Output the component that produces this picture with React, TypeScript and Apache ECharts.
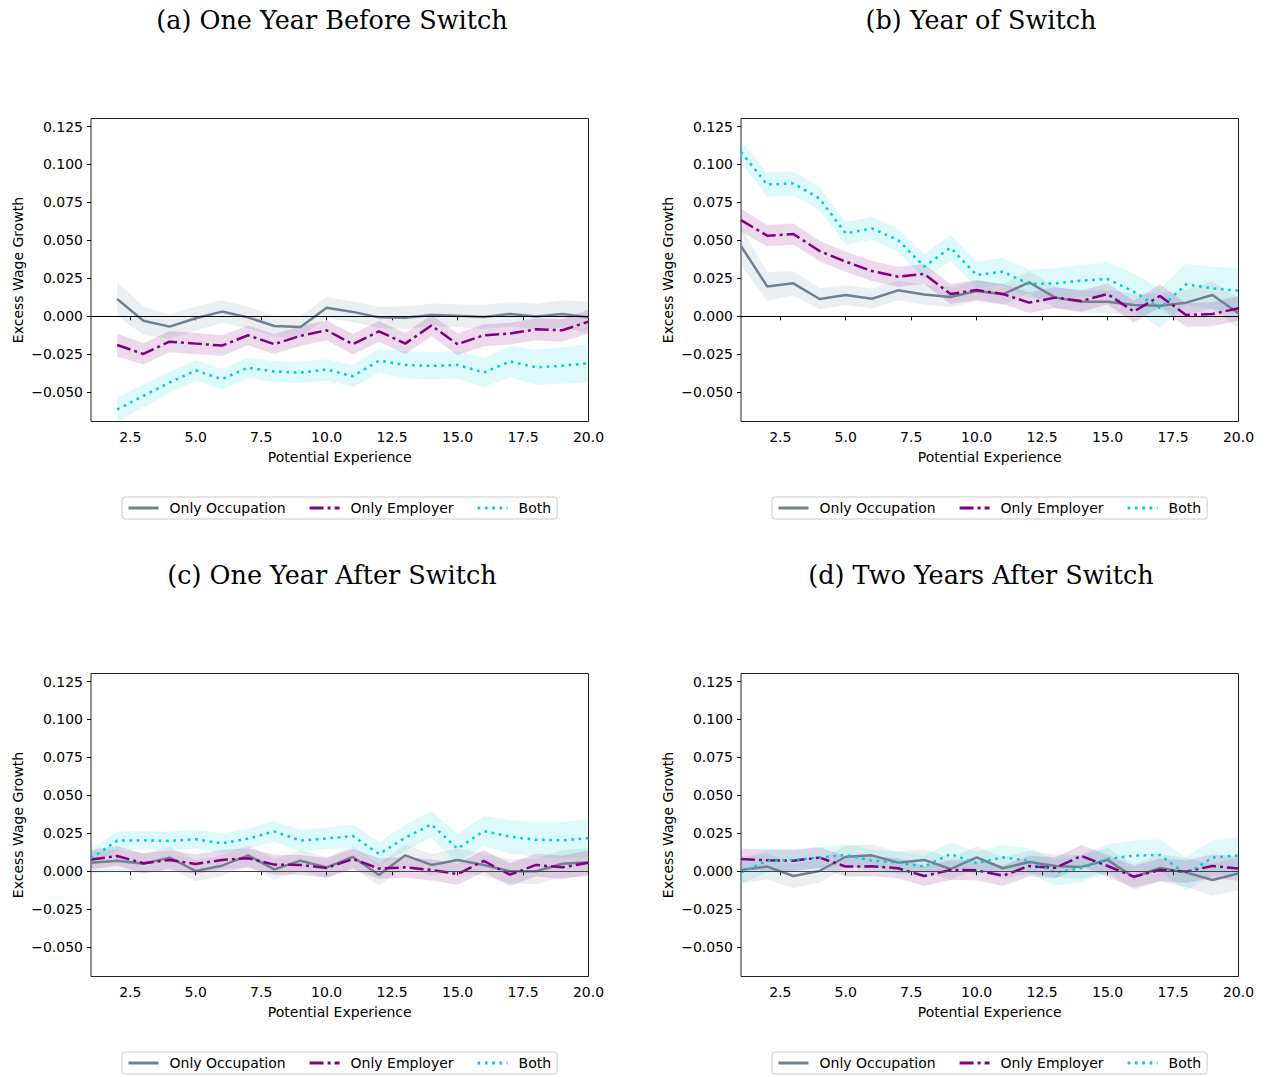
import React, { useEffect, useRef } from "react";
import * as echarts from "echarts";

// Potential experience values
const expA = [2, 3, 4, 5, 6, 7, 8, 9, 10, 11, 12, 13, 14, 15, 16, 17, 18, 19, 20];
const expB = [1, 2, 3, 4, 5, 6, 7, 8, 9, 10, 11, 12, 13, 14, 15, 16, 17, 18, 19, 20];

const xTicks = [2.5, 5, 7.5, 10, 12.5, 15, 17.5, 20];
const yTicks = [-0.05, -0.025, 0, 0.025, 0.05, 0.075, 0.1, 0.125];

const seriesNames = ["Only Occupation", "Only Employer", "Both"];
const titles = [
  "(a) One Year Before Switch",
  "(b) Year of Switch",
  "(c) One Year After Switch",
  "(d) Two Years After Switch",
];

// (a) One year before switch
const occA = [0.0114, -0.0029, -0.0068, -0.0013, 0.0031, -0.0007, -0.0064, -0.007, 0.0057, 0.0029, -0.0007, -0.0009, 0.0009, 0.0004, -0.0004, 0.0015, -0.0002, 0.0015, -0.0007];
const occAHw = [0.011, 0.0095, 0.008, 0.008, 0.0075, 0.007, 0.007, 0.007, 0.0068, 0.0068, 0.007, 0.0075, 0.0075, 0.0075, 0.008, 0.008, 0.0085, 0.009, 0.0105];
const empA = [-0.0189, -0.0248, -0.0167, -0.018, -0.0193, -0.0125, -0.0184, -0.0129, -0.0092, -0.0184, -0.0099, -0.018, -0.0061, -0.0184, -0.0125, -0.0114, -0.0086, -0.0092, -0.0035];
const empAHw = [0.0075, 0.007, 0.007, 0.007, 0.0068, 0.0065, 0.0065, 0.0065, 0.0065, 0.0068, 0.0068, 0.007, 0.007, 0.0072, 0.0072, 0.0072, 0.0072, 0.0075, 0.0078];
const bothA = [-0.0614, -0.0524, -0.0436, -0.0357, -0.0414, -0.0338, -0.0364, -0.0371, -0.0351, -0.0395, -0.0292, -0.032, -0.0327, -0.032, -0.0371, -0.0298, -0.0336, -0.0325, -0.0309];
const bothAHw = [0.008, 0.0075, 0.007, 0.0068, 0.0068, 0.0068, 0.0068, 0.007, 0.007, 0.0072, 0.008, 0.009, 0.009, 0.009, 0.0095, 0.0105, 0.0115, 0.012, 0.0125];

// (b) Year of switch
const occB = [0.0463, 0.0197, 0.0217, 0.0114, 0.014, 0.0116, 0.0171, 0.0143, 0.0127, 0.0167, 0.0145, 0.0224, 0.0123, 0.0096, 0.0096, 0.0075, 0.007, 0.009, 0.014, 0.002];
const occBHw = [0.0125, 0.0095, 0.008, 0.007, 0.0065, 0.0065, 0.0065, 0.0065, 0.0068, 0.0068, 0.007, 0.0072, 0.0072, 0.0072, 0.0075, 0.0075, 0.008, 0.0085, 0.009, 0.01];
const empB = [0.0634, 0.0531, 0.0542, 0.043, 0.036, 0.0298, 0.0261, 0.0279, 0.0147, 0.0173, 0.0147, 0.009, 0.0123, 0.0101, 0.0147, 0.0031, 0.0134, 0.0009, 0.0015, 0.0053];
const empBHw = [0.0075, 0.007, 0.007, 0.0068, 0.0066, 0.0066, 0.0066, 0.0066, 0.0066, 0.0066, 0.0066, 0.0068, 0.0068, 0.007, 0.007, 0.0072, 0.0075, 0.0078, 0.008, 0.008];
const bothB = [0.1083, 0.0868, 0.0875, 0.0776, 0.0546, 0.0579, 0.0502, 0.0327, 0.0452, 0.0272, 0.0294, 0.0213, 0.0217, 0.0235, 0.0246, 0.0162, 0.0053, 0.0211, 0.0184, 0.0169];
const bothBHw = [0.0075, 0.008, 0.008, 0.0078, 0.0075, 0.0075, 0.0078, 0.008, 0.0085, 0.0085, 0.009, 0.0095, 0.01, 0.0105, 0.011, 0.012, 0.013, 0.0135, 0.014, 0.015];

// (c) One year after switch
const occC = [0.0057, 0.007, 0.005, 0.009, 0.0002, 0.0037, 0.0105, 0.0013, 0.007, 0.0026, 0.0094, -0.0024, 0.0105, 0.0042, 0.0075, 0.0042, 0.0, 0.0, 0.005, 0.0059];
const occCHw = [0.007, 0.0075, 0.007, 0.007, 0.007, 0.0068, 0.0068, 0.0068, 0.0068, 0.0068, 0.007, 0.0072, 0.0072, 0.0072, 0.0075, 0.0075, 0.008, 0.0085, 0.009, 0.0095];
const empC = [0.0077, 0.0101, 0.0053, 0.0075, 0.0048, 0.0075, 0.0086, 0.0044, 0.0042, 0.0022, 0.0081, 0.0018, 0.0026, 0.0009, -0.0018, 0.0068, -0.0022, 0.0042, 0.0026, 0.0057];
const empCHw = [0.0065, 0.0065, 0.0065, 0.0065, 0.0065, 0.0065, 0.0065, 0.0065, 0.0065, 0.0065, 0.0068, 0.0068, 0.0068, 0.007, 0.007, 0.0072, 0.0075, 0.0075, 0.0078, 0.008];
const bothC = [0.0086, 0.0202, 0.0204, 0.02, 0.0211, 0.0184, 0.0215, 0.0263, 0.0202, 0.0217, 0.0232, 0.0114, 0.0221, 0.0309, 0.0149, 0.0265, 0.0228, 0.0208, 0.0204, 0.0219];
const bothCHw = [0.006, 0.006, 0.006, 0.006, 0.0062, 0.0065, 0.0068, 0.0068, 0.007, 0.0072, 0.0075, 0.008, 0.0085, 0.0088, 0.0095, 0.01, 0.011, 0.0115, 0.012, 0.0125];

// (d) Two years after switch
const occD = [0.0009, 0.0031, -0.0031, 0.0002, 0.0096, 0.0105, 0.0057, 0.0075, 0.0015, 0.0092, 0.002, 0.0061, 0.0035, 0.0029, 0.0075, -0.0039, 0.0022, -0.0007, -0.0057, -0.0015];
const occDHw = [0.009, 0.0085, 0.008, 0.0075, 0.0072, 0.0072, 0.0072, 0.0072, 0.0072, 0.0072, 0.0072, 0.0075, 0.0075, 0.0078, 0.008, 0.0085, 0.009, 0.0095, 0.0105, 0.011];
const empD = [0.0081, 0.0072, 0.007, 0.009, 0.0031, 0.0033, 0.002, -0.0031, 0.0009, 0.0007, -0.0029, 0.0035, 0.0022, 0.0101, 0.0035, -0.0035, 0.0009, -0.0002, 0.0035, 0.0018];
const empDHw = [0.007, 0.007, 0.0068, 0.0068, 0.0066, 0.0066, 0.0066, 0.0066, 0.0066, 0.0066, 0.0068, 0.0068, 0.007, 0.007, 0.0072, 0.0072, 0.0075, 0.0075, 0.0078, 0.008];
const bothD = [-0.0007, 0.0068, 0.0075, 0.009, 0.0107, 0.007, 0.0057, 0.0031, 0.0114, 0.0053, 0.0092, 0.007, -0.0007, 0.002, 0.0081, 0.0103, 0.0107, -0.0018, 0.009, 0.0105];
const bothDHw = [0.0075, 0.0075, 0.0072, 0.0072, 0.0072, 0.0072, 0.0072, 0.0075, 0.0075, 0.0078, 0.008, 0.0082, 0.0085, 0.009, 0.0095, 0.01, 0.0105, 0.011, 0.0115, 0.012];

const panelData = [
  { xs: expA, occ: occA, occHw: occAHw, emp: empA, empHw: empAHw, both: bothA, bothHw: bothAHw },
  { xs: expB, occ: occB, occHw: occBHw, emp: empB, empHw: empBHw, both: bothB, bothHw: bothBHw },
  { xs: expB, occ: occC, occHw: occCHw, emp: empC, empHw: empCHw, both: bothC, bothHw: bothCHw },
  { xs: expB, occ: occD, occHw: occDHw, emp: empD, empHw: empDHw, both: bothD, bothHw: bothDHw },
];

// layout
const gridPos = [
  { left: 91, top: 118.5 },
  { left: 741, top: 118.5 },
  { left: 91, top: 673.5 },
  { left: 741, top: 673.5 },
];
const GRID_W = 497.5;
const GRID_H = 303;
const titlePos = [
  { x: 332, y: 20 },
  { x: 981, y: 20 },
  { x: 332, y: 575 },
  { x: 981, y: 575 },
];
const legendPos = [
  { left: 122, top: 497 },
  { left: 772, top: 497 },
  { left: 122, top: 1052 },
  { left: 772, top: 1052 },
];

const COLORS = ["#708090", "#800080", "#00CED1"];
const BAND_COLORS = ["rgba(112,128,144,0.13)", "rgba(128,0,128,0.15)", "rgba(0,206,209,0.13)"];
const LINE_TYPES: any[] = ["solid", [14, 4, 3, 4], [2.7, 4.6]];
const SANS = "DejaVu Sans";

function fmtY(v: number) {
  const s = Math.abs(v).toFixed(3);
  return v < -1e-9 ? "\u2212" + s : s;
}

function bandSeries(k: number, xs: number[], ys: number[], hw: number[], color: string) {
  return {
    type: "custom",
    name: "band",
    xAxisIndex: k,
    yAxisIndex: k,
    silent: true,
    data: xs.map((x, i) => [x, ys[i] - hw[i], ys[i] + hw[i]]),
    encode: { x: 0, y: [1, 2] },
    renderItem: (params: any, api: any) => {
      if (params.dataIndex !== 0) return null;
      const pts: number[][] = [];
      for (let i = 0; i < xs.length; i++) pts.push(api.coord([xs[i], ys[i] + hw[i]]));
      for (let i = xs.length - 1; i >= 0; i--) pts.push(api.coord([xs[i], ys[i] - hw[i]]));
      return { type: "polygon", shape: { points: pts }, style: { fill: color } };
    },
  };
}

function zeroSeries(k: number, color: string) {
  return {
    type: "line",
    name: "zero",
    xAxisIndex: k,
    yAxisIndex: k,
    data: [],
    silent: true,
    markLine: {
      silent: true,
      symbol: ["none", "none"],
      label: { show: false },
      lineStyle: { color, width: 1, type: "solid" },
      data: [{ yAxis: 0 }],
    },
  };
}

function buildOption() {
  const grid: any[] = [];
  const xAxis: any[] = [];
  const yAxis: any[] = [];
  const series: any[] = [];
  const legend: any[] = [];
  const graphic: any[] = [];

  panelData.forEach((p, k) => {
    grid.push({
      left: gridPos[k].left,
      top: gridPos[k].top,
      width: GRID_W,
      height: GRID_H,
      show: true,
      borderColor: "#222",
      borderWidth: 1,
      backgroundColor: "transparent",
    });
    xAxis.push({
      type: "value",
      gridIndex: k,
      min: 1,
      max: 20,
      name: "Potential Experience",
      nameLocation: "middle",
      nameGap: 28,
      nameTextStyle: { fontSize: 14, color: "#000", fontFamily: SANS },
      axisLine: { show: false },
      axisTick: { show: true, length: 4, lineStyle: { color: "#000", width: 1 }, customValues: xTicks },
      axisLabel: {
        color: "#000",
        fontSize: 14,
        fontFamily: SANS,
        margin: 8,
        customValues: xTicks,
        formatter: (v: number) => v.toFixed(1),
      },
      splitLine: { show: false },
    });
    yAxis.push({
      type: "value",
      gridIndex: k,
      min: -0.0693,
      max: 0.1303,
      name: "Excess Wage Growth",
      nameLocation: "middle",
      nameGap: 66,
      nameTextStyle: { fontSize: 14, color: "#000", fontFamily: SANS },
      axisLine: { show: false },
      axisTick: { show: true, length: 4, lineStyle: { color: "#000", width: 1 }, customValues: yTicks },
      axisLabel: {
        color: "#000",
        fontSize: 14,
        fontFamily: SANS,
        margin: 8,
        customValues: yTicks,
        formatter: (v: number) => fmtY(v),
      },
      splitLine: { show: false },
    });

    const ys = [p.occ, p.emp, p.both];
    const hws = [p.occHw, p.empHw, p.bothHw];
    if (k >= 2) series.push(zeroSeries(k, "#444"));
    for (let s = 0; s < 3; s++) series.push(bandSeries(k, p.xs, ys[s], hws[s], BAND_COLORS[s]));
    for (let s = 0; s < 3; s++) {
      series.push({
        type: "line",
        name: seriesNames[s],
        xAxisIndex: k,
        yAxisIndex: k,
        data: p.xs.map((x, i) => [x, ys[s][i]]),
        symbol: "none",
        showSymbol: false,
        color: COLORS[s],
        lineStyle: { color: COLORS[s], width: 2.5, type: LINE_TYPES[s], cap: "butt" },
      });
    }
    if (k < 2) series.push(zeroSeries(k, "#000"));

    legend.push({
      left: legendPos[k].left,
      top: legendPos[k].top,
      data: seriesNames,
      orient: "horizontal",
      itemWidth: 30,
      itemHeight: 14,
      itemGap: 22.5,
      padding: [4, 6, 4, 5],
      borderColor: "#ccc",
      borderWidth: 1,
      borderRadius: 3,
      selectedMode: false,
      itemStyle: { opacity: 0 },
      lineStyle: { width: 3 },
      textStyle: { fontSize: 14, color: "#000", fontFamily: SANS, padding: [0, 0, 0, 6] },
    });

    graphic.push({
      type: "text",
      x: titlePos[k].x,
      y: titlePos[k].y,
      style: {
        text: titles[k],
        fontSize: 25.5,
        fontFamily: "DejaVu Serif",
        fill: "#000",
        align: "center",
        verticalAlign: "middle",
      },
    });
  });

  return {
    animation: false,
    backgroundColor: "#fff",
    grid,
    xAxis,
    yAxis,
    series,
    legend,
    graphic,
  };
}

export default function App() {
  const ref = useRef<HTMLDivElement>(null);
  useEffect(() => {
    if (!ref.current) return;
    const chart = echarts.init(ref.current, null, { renderer: "svg" });
    chart.setOption(buildOption() as any);
    return () => chart.dispose();
  }, []);
  return (
    <div
      ref={ref}
      style={{ position: "absolute", left: 0, top: 0, width: 1265, height: 1077, background: "#fff" }}
    />
  );
}
